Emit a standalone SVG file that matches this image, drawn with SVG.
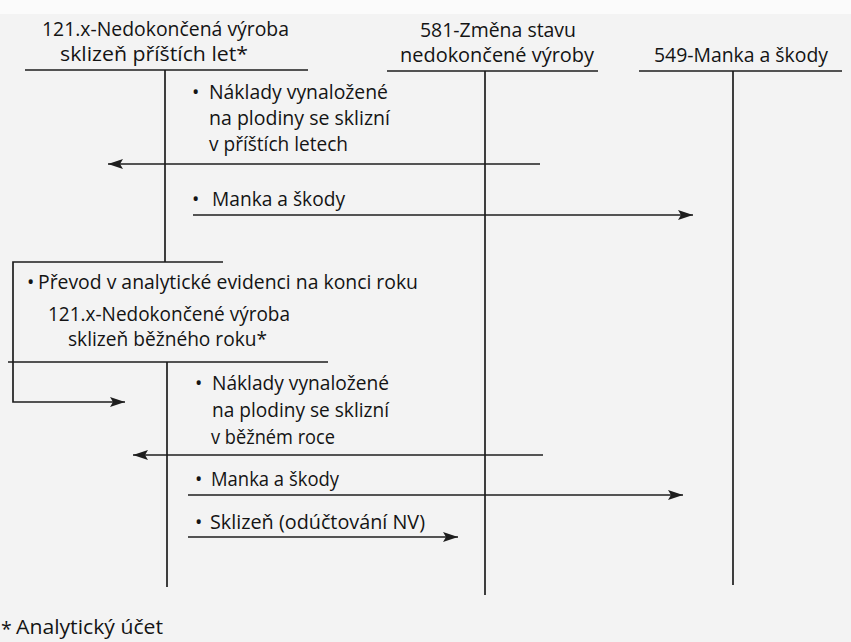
<svg xmlns="http://www.w3.org/2000/svg" width="851" height="642" viewBox="0 0 851 642">
<style>
text{font-family:"Open Sans","Noto Sans","DejaVu Sans",sans-serif;font-size:19.5px;fill:#141414}
.ln{stroke:#1e1e1e;stroke-width:1.7;fill:none}
.cn{stroke:#1e1e1e;stroke-width:1.7;fill:none;marker-end:url(#ah)}
</style>
<defs>
<marker id="ah" markerUnits="userSpaceOnUse" markerWidth="16" markerHeight="12" refX="15" refY="5" orient="auto">
<path d="M0,0 L15,5 L0,10 L3,5 z" fill="#1e1e1e"/>
</marker>
</defs>
<rect x="0" y="0" width="851" height="642" fill="#f3f3f3"/>
<rect x="0" y="0" width="851" height="14" fill="#fbfbfb"/>
<g id="acc121a">
<text x="42" y="36" textLength="247" lengthAdjust="spacingAndGlyphs">121.x-Nedokončená výroba</text>
<text x="60" y="61" textLength="188" lengthAdjust="spacingAndGlyphs">sklizeň příštích let*</text>
<path class="ln" d="M25,70 H308 M165,70 V262"/>
<text x="192" y="99">•</text>
<text x="209" y="99" textLength="179" lengthAdjust="spacingAndGlyphs">Náklady vynaložené</text>
<text x="209" y="125" textLength="181" lengthAdjust="spacingAndGlyphs">na plodiny se sklizní</text>
<text x="209" y="151" textLength="139" lengthAdjust="spacingAndGlyphs">v příštích letech</text>
<text x="192" y="206">•</text>
<text x="212" y="206" textLength="133" lengthAdjust="spacingAndGlyphs">Manka a škody</text>
</g>
<g id="acc581">
<text x="420" y="37" textLength="156" lengthAdjust="spacingAndGlyphs">581-Změna stavu</text>
<text x="400" y="62" textLength="194" lengthAdjust="spacingAndGlyphs">nedokončené výroby</text>
<path class="ln" d="M387,71 H598 M485,71 V595"/>
</g>
<g id="acc549">
<text x="654" y="62" textLength="174" lengthAdjust="spacingAndGlyphs">549-Manka a škody</text>
<path class="ln" d="M639,71 H842 M733,71 V585"/>
</g>
<g id="acc121b">
<text x="48" y="321" textLength="242" lengthAdjust="spacingAndGlyphs">121.x-Nedokončené výroba</text>
<text x="68" y="346" textLength="199" lengthAdjust="spacingAndGlyphs">sklizeň běžného roku*</text>
<path class="ln" d="M8,362 H328 M167,362 V587"/>
<text x="195" y="390">•</text>
<text x="212" y="390" textLength="177" lengthAdjust="spacingAndGlyphs">Náklady vynaložené</text>
<text x="212" y="417" textLength="177" lengthAdjust="spacingAndGlyphs">na plodiny se sklizní</text>
<text x="211" y="444" textLength="124" lengthAdjust="spacingAndGlyphs">v běžném roce</text>
<text x="195" y="486">•</text>
<text x="211" y="486" textLength="128" lengthAdjust="spacingAndGlyphs">Manka a škody</text>
<text x="195" y="529">•</text>
<text x="210" y="529" textLength="215" lengthAdjust="spacingAndGlyphs">Sklizeň (odúčtování NV)</text>
</g>
<g id="note">
<text x="1" y="636">*</text>
<text x="16" y="634" textLength="147" lengthAdjust="spacingAndGlyphs">Analytický účet</text>
</g>
<g id="connectors">
<path class="cn" d="M540,164 H108"/>
<path class="cn" d="M193,215 H693"/>
<path class="cn" d="M223,262 H13 V402 H125"/>
<text x="27" y="289">•</text>
<text x="38" y="289" textLength="380" lengthAdjust="spacingAndGlyphs">Převod v analytické evidenci na konci roku</text>
<path class="cn" d="M543,455 H133"/>
<path class="cn" d="M188,495 H683"/>
<path class="cn" d="M188,537 H458"/>
</g>
</svg>
